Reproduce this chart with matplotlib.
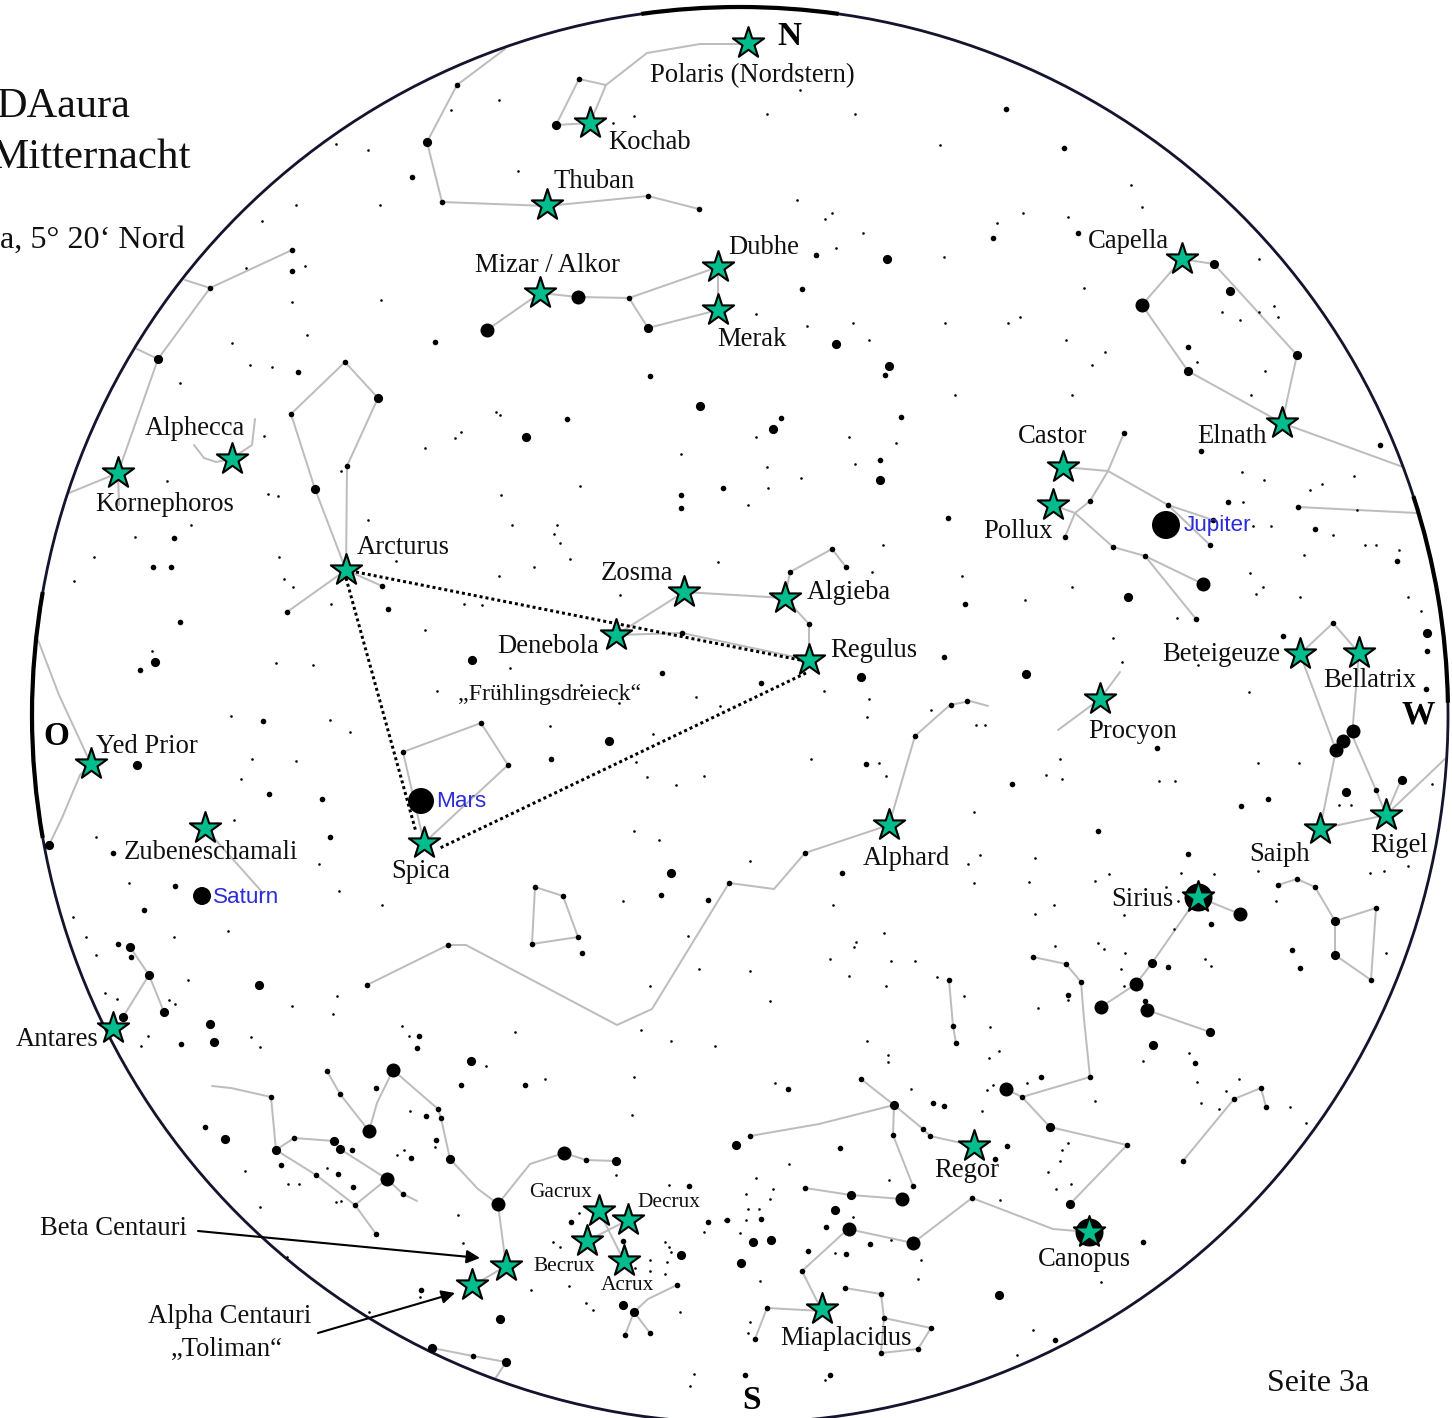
import matplotlib.pyplot as plt
from matplotlib.patches import Arc, Circle

# constellation lines, picture coordinates
lines = [
    [(748,44),(700,44),(647,53),(606,85),(579,79),(556,125),(590,123),(606,85)],
    [(505,49),(457,85),(427,142),(442,202),(547,206),(648,196),(699,209)],
    [(292,250),(210,288),(158,359),(118,473),(119,505)],
    [(185,280),(210,288)],
    [(137,349),(158,359)],
    [(69,493),(118,473)],
    [(194,445),(204,458),(216,462),(231,459),(252,445),(255,419)],
    [(346,570),(347,466),(378,398),(345,362),(291,414),(315,489),(346,570)],
    [(287,612),(346,570),(382,586)],
    [(809,660),(682,633),(616,635),(684,592),(785,598),(809,624),(809,660)],
    [(785,598),(790,572),(832,549),(846,567)],
    [(487,330),(540,293),(578,297),(629,298),(718,267),(718,310),(648,328),(629,298)],
    [(1182,259),(1214,264),(1297,355),(1282,423),(1188,371),(1142,305),(1182,259)],
    [(1282,423),(1403,467)],
    [(1063,467),(1108,471),(1168,505),(1213,520)],
    [(1168,505),(1210,545)],
    [(1124,433),(1108,471),(1090,501),(1075,513),(1065,537)],
    [(1053,505),(1075,513),(1113,547),(1145,556),(1203,584)],
    [(1145,556),(1196,619)],
    [(1298,507),(1417,513)],
    [(1300,654),(1333,623),(1359,653),(1352,735),(1376,790),(1386,815)],
    [(1300,654),(1336,750),(1320,829),(1386,815)],
    [(1386,815),(1401,780)],
    [(1386,815),(1425,778),(1447,757)],
    [(1120,672),(1100,699),(1058,730)],
    [(988,706),(970,701),(950,705),(915,736),(889,825),(805,853),(774,889),(729,883),(652,1009),(617,1025),(466,945),(448,945),(367,985)],
    [(403,752),(481,723),(508,765),(424,843),(403,752)],
    [(535,887),(563,896),(578,937),(532,944),(535,887)],
    [(205,828),(263,893)],
    [(130,947),(149,975),(164,1012)],
    [(149,975),(123,1017)],
    [(38,640),(59,695),(91,764),(80,775),(62,818),(49,845)],
    [(212,1086),(231,1088),(271,1097),(276,1150),(294,1138),(334,1141)],
    [(276,1150),(316,1175),(355,1205),(376,1234)],
    [(355,1205),(387,1179),(340,1149)],
    [(387,1179),(403,1194),(417,1201)],
    [(327,1071),(340,1094),(369,1131),(377,1103),(393,1070),(438,1109),(441,1118),(450,1159),(478,1189),(498,1204),(506,1266),(472,1286)],
    [(498,1204),(530,1164),(564,1153),(586,1160),(616,1161)],
    [(599,1211),(624,1261)],
    [(587,1241),(628,1220)],
    [(677,1285),(648,1299),(634,1312),(625,1335)],
    [(634,1312),(650,1333)],
    [(432,1348),(473,1356),(506,1362),(495,1379)],
    [(1033,957),(1066,964),(1081,982),(1084,1019),(1090,1077),(1022,1097),(1006,1089)],
    [(1022,1097),(1050,1127),(1127,1145),(1070,1204)],
    [(1198,897),(1152,963),(1136,984),(1101,1007)],
    [(1198,897),(1240,914)],
    [(1147,1010),(1210,1032)],
    [(1278,885),(1297,879),(1315,887),(1335,921),(1376,908),(1371,980),(1335,955),(1335,921)],
    [(949,980),(953,1026),(956,1043)],
    [(1183,1161),(1234,1099),(1261,1088),(1266,1107)],
    [(750,1136),(819,1124),(894,1105),(861,1079)],
    [(894,1105),(923,1129),(930,1136),(975,1146)],
    [(894,1105),(893,1135),(913,1186)],
    [(805,1188),(851,1195),(902,1199)],
    [(802,1271),(848,1229),(913,1243),(972,1198),(1053,1229),(1089,1232)],
    [(802,1271),(822,1311),(767,1308),(755,1339)],
    [(845,1288),(881,1294),(884,1318),(931,1328),(918,1349),(881,1353),(884,1318)],
]

# the triangle edges stop short of the stars at their ends
triangle_edges = [
    [(356,572),(800,660)],
    [(346,578),(416,832)],
    [(806,673),(440,848)],
]

# named stars drawn as green markers
named = [(748,43),(590,123),(547,205),(718,267),(540,293),(718,310),(1182,259),(1282,423),
         (232,459),(118,473),(1063,467),(1053,505),(346,570),(684,592),(785,598),(616,635),
         (809,660),(1300,654),(1359,653),(1100,699),(91,764),(205,828),(424,843),(889,825),
         (1320,829),(1386,815),(1198,897),(113,1028),(974,1146),(599,1211),(628,1220),
         (587,1241),(624,1261),(506,1266),(472,1285),(1089,1232),(822,1309)]

planets = [(1166,525),(421,801),(202,896)]
planet_radius = [14,13,9]

huge = [(1198,897),(1089,1232)]
large = [(487,330),(578,297),(1142,305),(1203,584),(1147,1010),(1136,984),(902,1199),(913,1243),(849,1229),
         (1006,1089),(1101,1007),(1240,914),(393,1070),(369,1131),(387,1179),(564,1153),
         (498,1204),(1336,750),(1343,741),(1353,731)]
medium = [(427,142),(648,328),(315,489),(378,398),(158,359),(130,947),(149,975),(164,1012),(123,1017),
          (49,845),(276,1150),(334,1141),(340,1149),(450,1159),(616,1161),(851,1195),(556,125),
          (736,1145),(1050,1127),(1297,355),(1188,371),(1214,264),(1335,921),(1335,955),(894,1105),
          (1152,963),(471,1061),(259,985),(137,765),(700,406),(526,437),(155,662),(472,660),
          (1427,633),(1402,780),(1346,792),(836,344),(887,259),(889,366),(773,429),(1230,291),(880,480),
          (1026,674),(861,677),(1128,597),(999,1295),(753,1242),(771,1240),(741,1263),(835,1210),
          (500,1319),(681,1255),(623,1305),(634,1312),(1153,1045),(1070,1204),(210,1024),(214,1042),
          (225,1139),(609,741),(671,873),(432,1348),(506,1362),(1210,1032)]
small = [(412,177),(292,271),(435,342),(298,372),(650,376),(567,419),(681,495),(681,508),(723,488),
         (174,538),(153,567),(171,567),(388,609),(180,622),(140,670),(662,673),(1006,109),(1064,148),
         (993,238),(1078,233),(816,255),(802,289),(885,375),(781,418),(901,417),(1188,347),(1380,445),
         (1201,451),(1228,502),(1315,529),(1397,561),(1427,651),(1426,689),(1283,636),(965,604),(948,518),
         (944,657),(761,683),(880,460),(1210,545),(1213,520),(951,705),(967,701),(263,721),(269,794),
         (322,799),(330,837),(113,853),(175,886),(144,910),(118,944),(131,957),(181,1044),(419,1036),
         (417,1048),(461,1085),(525,1085),(376,1088),(426,1116),(436,1140),(411,1158),(205,1127),(281,1165),
         (338,1174),(352,1150),(353,1187),(421,1290),(661,895),(708,900),(582,953),(551,759),(689,1186),
         (708,1222),(571,1222),(623,1241),(866,764),(1157,748),(1012,784),(1268,799),(1241,806),(1098,831),
         (1188,854),(842,873),(1211,924),(1168,967),(1292,950),(1300,968),(1068,995),(1145,1001),(1195,1063),
         (788,1089),(1041,1077),(933,1103),(944,1106),(840,1148),(1007,1146),(995,1159),(826,1227),(761,1219),
         (727,1220),(870,1244),(808,1251),(846,1254),(1143,1242),(1055,1340),(745,1375),(830,1375),
         (1124,433),(1168,505),(1090,501),(1065,537),(1113,547),(1145,556),(1196,619),(1298,507),(1333,623),
         (1376,790),(790,572),(846,567),(809,624),(915,736),(805,853),(729,883),(448,945),(367,985),
         (403,752),(481,723),(508,765),(535,887),(563,896),(578,937),(532,944),(579,79),(457,85),
         (442,202),(648,196),(699,209),(292,250),(210,288),(345,362),(291,414),(347,466),(287,612),(382,586),
         (629,298),(682,633),(832,549),(271,1097),(294,1138),(316,1175),(355,1205),(376,1234),(403,1194),
         (327,1071),(340,1094),(438,1109),(441,1118),(586,1160),(677,1285),(625,1335),(650,1333),(473,1356),
         (1033,957),(1066,964),(1081,982),(1090,1077),(1022,1097),(1127,1145),(1278,885),(1297,879),(1315,887),
         (1376,908),(1371,980),(953,1026),(956,1043),(949,980),(1183,1161),(1234,1099),(1261,1088),(1266,1107),
         (750,1136),(861,1079),(923,1129),(930,1136),(893,1135),(913,1186),(805,1188),(802,1271),(767,1308),
         (755,1339),(972,1198),(881,1294),(845,1288),(884,1318),(931,1328),(918,1349),(881,1353)]
tiny = [(499,100),(451,110),(518,171),(613,123),(634,116),(336,144),(368,150),(380,205),(296,205),(262,221),
        (305,266),(246,268),(292,302),(381,300),(307,335),(232,343),(250,365),(272,367),(180,383),(496,412),
        (500,415),(461,432),(455,438),(425,448),(264,436),(681,454),(167,481),(341,471),(268,494),(278,496),
        (501,495),(580,486),(368,520),(512,525),(557,525),(554,534),(560,543),(191,525),(135,537),(94,557),
        (74,581),(284,579),(279,557),(293,587),(396,561),(534,567),(570,559),(499,576),(718,562),(620,595),
        (331,604),(464,604),(482,605),(425,630),(152,651),(276,663),(313,665),(510,668),(581,685),(696,697),
        (437,691),(619,703),(498,691),(720,706),(800,90),(767,114),(855,114),(940,145),(1131,185),(1142,207),
        (1068,217),(1023,213),(997,223),(797,200),(832,213),(825,219),(863,233),(836,248),(944,257),(756,314),
        (853,323),(807,326),(945,323),(1008,323),(1020,317),(869,340),(1066,340),(1105,352),(1092,365),(955,395),
        (1072,395),(1259,259),(1084,288),(1222,312),(1240,320),(1259,312),(1274,306),(1278,317),(1197,362),
        (1265,371),(1251,395),(1242,472),(1354,476),(1322,484),(1310,490),(1264,480),(1243,502),(1357,510),
        (1333,535),(1271,526),(1253,526),(1365,545),(1376,545),(1399,550),(1304,555),(1250,573),(1263,587),
        (1256,594),(1300,597),(1408,597),(1421,611),(1249,692),(1198,665),(1113,638),(1122,662),(1177,618),
        (1072,587),(1025,600),(962,576),(883,545),(872,572),(824,691),(869,699),(849,437),(756,437),(896,443),
        (767,467),(801,478),(855,464),(768,488),(748,505),(231,716),(330,720),(350,732),(252,759),(296,761),
        (241,779),(234,820),(96,837),(319,864),(129,883),(339,891),(382,905),(73,917),(86,937),(174,937),(228,931),
        (96,955),(188,980),(105,993),(117,999),(169,1000),(175,1004),(292,1006),(333,1014),(337,996),(251,1037),
        (148,1036),(141,1046),(260,1047),(402,1026),(409,1036),(515,1032),(486,1066),(545,1079),(410,1111),
        (435,1147),(397,1155),(404,1150),(245,1171),(327,1168),(288,1184),(299,1184),(336,1202),(341,1201),
        (260,1207),(287,1257),(458,1215),(463,1243),(531,1290),(420,1297),(369,1312),(623,901),(634,831),(659,840),
        (636,762),(647,777),(676,785),(704,776),(550,726),(653,734),(688,936),(699,969),(650,986),(671,1041),
        (641,1030),(715,1046),(634,1077),(632,1115),(616,1175),(669,1185),(704,1232),(725,1220),(579,1213),
        (553,1242),(560,1247),(665,1242),(669,1247),(671,1252),(650,1260),(650,1271),(667,1262),(665,1274),
        (635,1268),(569,1286),(586,1303),(593,1310),(680,1312),(694,1374),(690,1386),(867,717),(931,710),(976,725),
        (985,725),(811,759),(879,763),(886,776),(1060,759),(1046,775),(1062,779),(1159,781),(1175,781),(1258,763),
        (1299,763),(1339,805),(1351,805),(1432,784),(974,812),(1035,858),(980,855),(968,864),(750,861),(974,883),
        (1029,882),(1095,881),(1109,874),(1181,873),(1214,874),(1166,887),(1258,871),(1370,873),(1384,871),(1408,866),
        (1276,901),(833,905),(1054,905),(1035,914),(1124,915),(1178,901),(884,933),(1174,929),(856,942),(854,947),
        (1055,946),(1098,943),(1104,949),(1125,953),(830,959),(891,961),(915,961),(750,971),(849,976),(886,986),
        (937,977),(964,996),(1121,969),(1205,959),(1211,966),(1386,953),(770,1001),(1038,1008),(1068,1000),(1124,986),
        (990,1027),(867,1041),(888,1055),(888,1062),(1143,1061),(1189,1053),(1197,1082),(999,1051),(989,1058),
        (775,1083),(993,1085),(987,1090),(1027,1083),(911,1089),(1095,1101),(982,1111),(1201,1103),(1219,1109),
        (1226,1091),(1239,1079),(1290,1107),(1306,1123),(789,1164),(1068,1143),(1062,1150),(1060,1161),(1048,1172),
        (1071,1184),(1056,1189),(889,1180),(756,1178),(773,1189),(770,1199),(746,1194),(1000,1200),(853,1217),
        (748,1209),(759,1209),(746,1220),(740,1233),(891,1240),(835,1253),(921,1260),(760,1281),(918,1279),(1101,1282),
        (750,1322),(748,1333),(1033,1330),(1017,1355),(825,1380)]

labels = ['Polaris (Nordstern)','Kochab','Thuban','Dubhe','Mizar / Alkor','Merak','Capella','Alphecca',
          'Kornephoros','Castor','Elnath','Pollux','Arcturus','Zosma','Algieba','Denebola','Regulus',
          'Beteigeuze','Bellatrix','Procyon','Yed Prior','Zubeneschamali','Spica','Alphard','Saiph','Rigel',
          'Sirius','Antares','Regor','Beta Centauri','Canopus','Alpha Centauri','„Toliman“','Miaplacidus']
label_pos = [(650,82),(608,149),(554,188),(728,254),(475,272),(717,346),(1088,248),(145,435),
             (95,511),(1018,443),(1197,443),(983,538),(357,554),(601,580),(807,599),(497,653),(830,657),
             (1162,661),(1323,687),(1088,738),(96,753),(124,859),(391,878),(863,865),(1249,861),(1370,852),
             (1111,906),(16,1046),(934,1177),(40,1235),(1038,1266),(148,1323),(171,1356),(780,1345)]

small_labels = ['Gacrux','Decrux','Becrux','Acrux']
small_label_pos = [(529,1197),(637,1207),(533,1271),(601,1290)]

planet_labels = ['Jupiter','Mars','Saturn']
planet_label_pos = [(1184,531),(436,807),(213,903)]

compass = ['N','O','W','S']
compass_pos = [(777,45),(43,745),(1401,724),(742,1409)]

fig = plt.figure(figsize=(14.52,14.18), dpi=100)
ax = fig.add_axes([0,0,1,1])
ax.set_xlim(0,1452)
ax.set_ylim(1418,0)
ax.axis('off')

px = 0.72
serif = 'Liberation Serif'

ax.add_patch(Circle((740,715), 708, fill=False, ec='#14142e', lw=2.8*px, zorder=2))
# the rim is heavier on the left, top and right
for t1, t2 in [(170,190),(262,278),(342,359)]:
    ax.add_patch(Arc((740,715), 1416, 1416, theta1=t1, theta2=t2, color='black', lw=4.2*px, zorder=2))

for line in lines:
    ax.plot([p[0] for p in line], [p[1] for p in line], color='#bdbdbd', lw=2*px,
            solid_capstyle='round', zorder=1)

for pts, r in [(tiny,1.3),(small,2.8),(medium,4.6),(large,7),(huge,14)]:
    ax.scatter([p[0] for p in pts], [p[1] for p in pts], s=(2*r*px)**2, c='black', lw=0, zorder=3)

ax.scatter([p[0] for p in planets], [p[1] for p in planets],
           s=[(2*r*px)**2 for r in planet_radius], c='black', lw=0, zorder=3)

for edge in triangle_edges:
    ax.plot([p[0] for p in edge], [p[1] for p in edge], color='black', lw=3*px,
            linestyle=(0,(1,1)), zorder=4)

ax.scatter([p[0] for p in named], [p[1] for p in named], marker='*', s=560, c='#00bd8d',
           edgecolors='black', linewidths=1.5, zorder=5)

for name, pos in zip(labels, label_pos):
    ax.text(pos[0], pos[1], name, family=serif, fontsize=19.2, color='#101010', va='baseline', zorder=6)
for name, pos in zip(small_labels, small_label_pos):
    ax.text(pos[0], pos[1], name, family=serif, fontsize=15.4, color='#101010', va='baseline', zorder=6)
ax.text(458, 700, '„Frühlingsdreieck“', family=serif, fontsize=17.2, color='#101010', va='baseline', zorder=6)
for name, pos in zip(planet_labels, planet_label_pos):
    ax.text(pos[0], pos[1], name, family='Liberation Sans', fontsize=16.2, color='#2c2cd8', va='baseline', zorder=6)
for name, pos in zip(compass, compass_pos):
    ax.text(pos[0], pos[1], name, family=serif, fontsize=24, fontweight='bold', color='black', va='baseline', zorder=6)

ax.text(-3, 117, 'DAaura', family=serif, fontsize=30.5, color='#101010', va='baseline')
ax.text(-9, 168, 'Mitternacht', family=serif, fontsize=31, color='#101010', va='baseline')
ax.text(0, 248, 'a, 5° 20‘ Nord', family=serif, fontsize=23.2, color='#101010', va='baseline')
ax.text(1267, 1391, 'Seite 3a', family=serif, fontsize=23, color='#101010', va='baseline')

ax.annotate('', xy=(480,1258), xytext=(198,1231),
            arrowprops=dict(arrowstyle='-|>', color='black', lw=1.5, mutation_scale=20, shrinkA=0, shrinkB=0), zorder=6)
ax.annotate('', xy=(455,1293), xytext=(318,1333),
            arrowprops=dict(arrowstyle='-|>', color='black', lw=1.5, mutation_scale=20, shrinkA=0, shrinkB=0), zorder=6)

fig.savefig('out.png', dpi=100)
